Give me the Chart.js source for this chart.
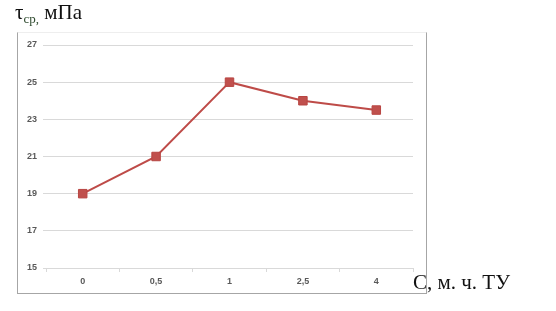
<!DOCTYPE html>
<html>
<head>
<meta charset="utf-8">
<script src="https://cdn.jsdelivr.net/npm/chart.js@4"></script>
<style>
  body { margin: 0; background: #fff; }
  #wrap { position: relative; width: 556px; height: 311px; }
  #frame {
    position: absolute; left: 17px; top: 32px; width: 408px; height: 260px;
    border: 1px solid #a6a6a6; border-top-color: #eeeeee;
  }
  canvas { position: absolute; left: 0; top: 0; }
  .lbl { position: absolute; font-family: "Liberation Serif", "Times New Roman", serif; font-size: 21px; color: #111; white-space: nowrap; }
  #ytitle { left: 15px; top: 0px; }
  #ytitle sub { font-size: 13px; color: #2e4a2e; vertical-align: -4px; }
  #xtitle { left: 413px; top: 270px; }
</style>
</head>
<body>
<div id="wrap">
  <div id="frame"></div>
  <canvas id="c" width="556" height="311"></canvas>
  <div class="lbl" id="ytitle">τ<sub>ср,</sub> мПа</div>
  <div class="lbl" id="xtitle">С, м. ч. ТУ</div>
</div>
<script>
const categories = ['0', '0,5', '1', '2,5', '4'];
const tauValues = [19, 21, 25, 24, 23.5];
const yTicks = [15, 17, 19, 21, 23, 25, 27];

const tickFont = { family: 'Liberation Sans, Arial, sans-serif', size: 9, weight: 'bold' };

new Chart(document.getElementById('c').getContext('2d'), {
  type: 'line',
  data: {
    labels: categories,
    datasets: [{
      data: tauValues,
      borderColor: '#be4b48',
      backgroundColor: '#c0504d',
      borderWidth: 2,
      pointStyle: 'rect',
      pointRadius: 6,
      pointBorderColor: '#b84542',
      pointBorderWidth: 1,
      tension: 0
    }]
  },
  options: {
    responsive: false,
    animation: false,
    layout: { padding: { left: 17, right: 143, top: 45, bottom: 18 } },
    plugins: { legend: { display: false }, tooltip: { enabled: false } },
    scales: {
      x: {
        offset: true,
        afterFit: s => { s.height = 25; },
        grid: { offset: true, drawOnChartArea: false, drawTicks: true, tickLength: 4, color: '#d9d9d9' },
        border: { color: '#d9d9d9' },
        ticks: { color: '#595959', font: tickFont, padding: 4 }
      },
      y: {
        min: 15, max: 27,
        afterFit: s => { s.width = 29; },
        afterBuildTicks: s => { s.ticks = yTicks.map(v => ({ value: v })); },
        grid: { color: '#d9d9d9', lineWidth: 1, drawTicks: true, tickLength: 3 },
        border: { display: false },
        ticks: { color: '#595959', font: tickFont, padding: 6 }
      }
    }
  }
});
</script>
</body>
</html>
